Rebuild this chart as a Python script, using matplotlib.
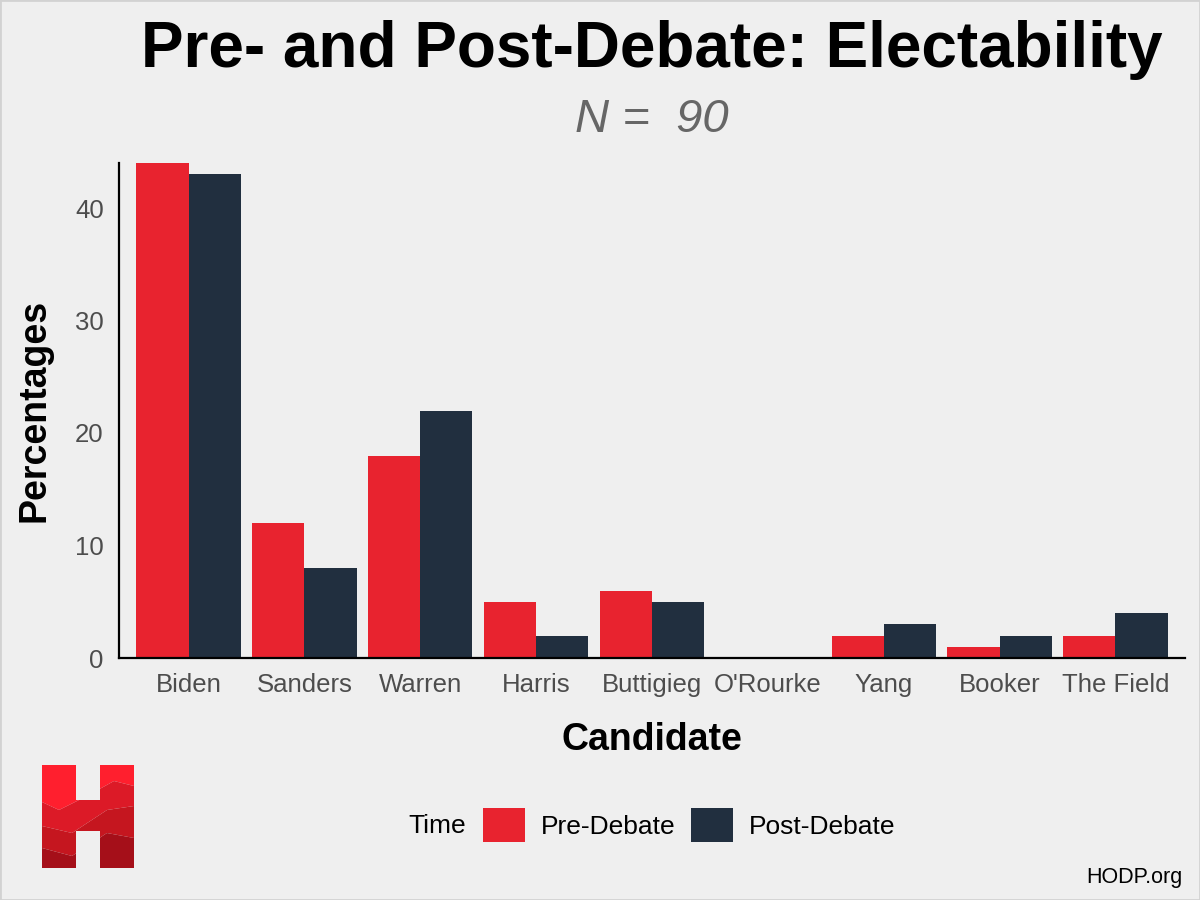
import numpy as np
import matplotlib.pyplot as plt
from matplotlib.patches import Polygon, Rectangle, PathPatch
from matplotlib.path import Path

plt.rcParams['font.family'] = ['Liberation Sans', 'DejaVu Sans']

candidates = ['Biden', 'Sanders', 'Warren', 'Harris', 'Buttigieg', "O'Rourke",
              'Yang', 'Booker', 'The Field']
pre_debate = [44, 12, 18, 5, 6, 0, 2, 1, 2]
post_debate = [43, 8, 22, 2, 5, 0, 3, 2, 4]
y_ticks = [0, 10, 20, 30, 40]

bg = '#efefef'
red = '#e8232f'
navy = '#212f3f'
grey = '#4d4d4d'

fig = plt.figure(figsize=(12, 9), dpi=100, facecolor=bg)
ax = fig.add_axes([119 / 1200, 1 - 658 / 900, (1185 - 119) / 1200, (658 - 163) / 900])
ax.set_facecolor(bg)

x = np.arange(len(candidates))
w = 0.45
ax.bar(x - w / 2, pre_debate, width=w, color=red, label='Pre-Debate')
ax.bar(x + w / 2, post_debate, width=w, color=navy, label='Post-Debate')

ax.set_xlim(-0.6, len(candidates) - 0.4)
ax.set_ylim(0, 44)
ax.set_xticks(x)
ax.set_xticklabels(candidates, fontsize=18.5, color=grey)
ax.set_yticks(y_ticks)
ax.set_yticklabels([str(t) for t in y_ticks], fontsize=18.5, color=grey)
ax.tick_params(length=0, pad=11)
for s in ['top', 'right']:
    ax.spines[s].set_visible(False)
for s in ['left', 'bottom']:
    ax.spines[s].set_linewidth(1.6)
    ax.spines[s].set_color('black')

ax.set_xlabel('Candidate', fontsize=27, fontweight='bold', labelpad=18)
ax.set_ylabel('Percentages', fontsize=27, fontweight='bold', labelpad=16)

fig.text(0.543, 1 - 50 / 900, 'Pre- and Post-Debate: Electability', ha='center', va='center',
         fontsize=46, fontweight='bold', color='black')
fig.text(0.543, 1 - 120 / 900, 'N =  90', ha='center', va='center', fontsize=34,
         style='italic', color='#666666')

# legend
fig.text(408 / 1200, 1 - 826 / 900, 'Time', ha='left', va='center', fontsize=19, color='black')
leg = fig.legend(loc='center left', bbox_to_anchor=(472 / 1200, 1 - 825 / 900), ncol=2,
                 frameon=False, fontsize=19, handlelength=1.6, handleheight=1.6,
                 columnspacing=0.6, handletextpad=0.6, borderaxespad=0)

fig.text(1183 / 1200, 1 - 877 / 900, 'HODP.org', ha='right', va='center', fontsize=15.5, color='black')

# border
fig.add_artist(Rectangle((0, 0), 1, 1, transform=fig.transFigure, fill=False,
                         edgecolor='#d2d2d2', linewidth=2))

# HODP logo
lax = fig.add_axes([42 / 1200, 1 - 868 / 900, 92 / 1200, 103 / 900])
lax.set_xlim(0, 92)
lax.set_ylim(0, 103)
lax.axis('off')
h_verts = [(0, 0), (34, 0), (34, 37), (58, 37), (58, 0), (92, 0), (92, 103), (58, 103),
           (58, 68), (34, 68), (34, 103), (0, 103), (0, 0)]
h_path = Path(h_verts)
h_patch = PathPatch(h_path, facecolor='none', edgecolor='none')
lax.add_patch(h_patch)
layers = [
    ('#ff1f2e', [(0, 103), (92, 103), (92, 82), (72, 87), (45, 72), (17, 58), (0, 66)]),
    ('#dc1a27', [(0, 66), (17, 58), (45, 72), (72, 87), (92, 82), (92, 62), (65, 58), (30, 35), (0, 42)]),
    ('#c5161f', [(0, 42), (30, 35), (65, 58), (92, 62), (92, 30), (65, 35), (30, 12), (0, 20)]),
    ('#a50f19', [(0, 20), (30, 12), (65, 35), (92, 30), (92, 0), (0, 0)]),
]
for c, pts in layers:
    p = Polygon(pts, closed=True, facecolor=c, edgecolor='none')
    lax.add_patch(p)
    p.set_clip_path(h_patch)

fig.savefig('out.png', dpi=100, facecolor=bg)
